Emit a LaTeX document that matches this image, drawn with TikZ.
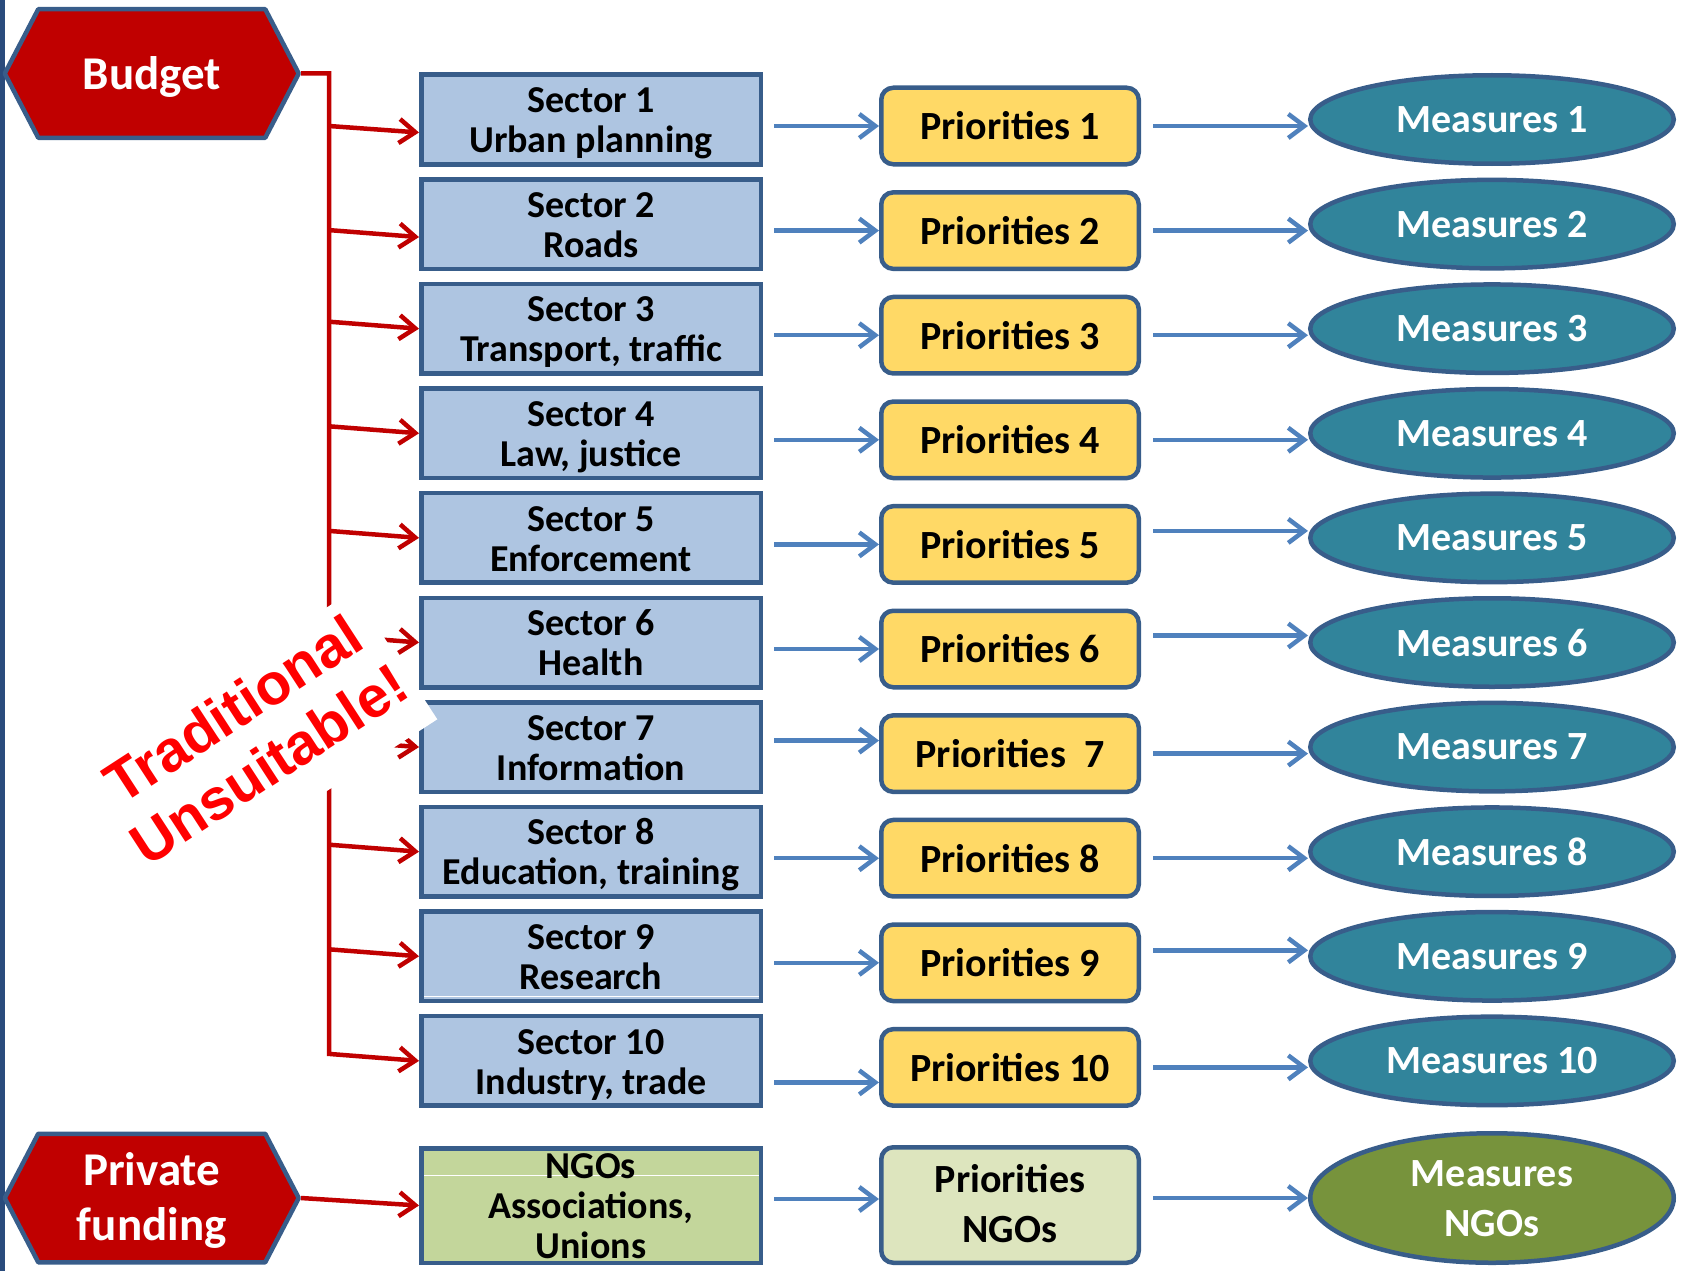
\documentclass[tikz,border=0pt]{standalone}
\usepackage{fontspec}
\setmainfont{Carlito}
\newfontfamily\tradfont{Liberation Sans}
\usetikzlibrary{
	arrows.meta,
	calc,
	positioning,
	shapes.geometric
}
\definecolor{budgetred}{HTML}{C00000}
\definecolor{boxline}{HTML}{385D8A}
\definecolor{sectorfill}{HTML}{AEC5E1}
\definecolor{ngofill}{HTML}{C3D69B}
\definecolor{priofill}{HTML}{FFD966}
\definecolor{priongofill}{HTML}{DDE5BE}
\definecolor{measurefill}{HTML}{31849B}
\definecolor{measurengofill}{HTML}{77933C}
\definecolor{arrowblue}{HTML}{4F81BD}
\definecolor{leftbar}{HTML}{2A4B7C}
\definecolor{tradred}{HTML}{FF0000}
\tikzset{every path/.append style={line width=4.5pt}}
\tikzset{
	hexline/.style={draw=boxline,fill=budgetred,line join=round},
	hexbox/.style={text=white,minimum width=294pt,minimum height=128.5pt,inner sep=0pt,align=center,font=\fontsize{47}{55}\selectfont\bfseries},
	sectorbox/.style={draw=boxline,fill=sectorfill,minimum width=339.5pt,minimum height=89.5pt,inner sep=0pt,align=center,font=\fontsize{38}{40}\selectfont\bfseries,textdims={74pt}{7.5pt}},
	priobox/.style={draw=boxline,fill=priofill,rounded corners=12pt,minimum width=257.5pt,minimum height=76.5pt,inner sep=0pt,align=center,font=\fontsize{40}{50}\selectfont\bfseries},
	measurebox/.style={ellipse,draw=boxline,fill=measurefill,text=white,minimum width=363.5pt,minimum height=88.5pt,inner sep=0pt,align=center,font=\fontsize{40}{50}\selectfont\bfseries},
	textdims/.style 2 args={text height=#1,text depth=#2},
	redarrow/.style={draw=budgetred,-{Straight Barb[length=16pt,width=24pt]}},
	bluearrow/.style={draw=arrowblue,-{Straight Barb[length=16pt,width=24pt]}},
	whiteline/.style={draw=white,line width=1pt}
}
\newcommand{\tikzHex}[4][]{
	\filldraw[hexline] ($#3+(-147,0)$) -- ($#3+(-113.5,-64.25)$) -- ($#3+(113.5,-64.25)$) -- ($#3+(147,0)$) -- ($#3+(113.5,64.25)$) -- ($#3+(-113.5,64.25)$) -- cycle;
	\node (#2) at #3 [hexbox,#1]{#4};
}
\newcommand{\tikzSector}[4][]{\node (s#2) at (591,#3) [sectorbox,#1]{#4};}
\newcommand{\tikzPrio}[4][]{\node (p#2) at (1010,#3) [priobox,#1]{#4};}
\newcommand{\tikzMeasure}[4][]{\node (m#2) at (1492,#3) [measurebox,#1]{#4};}

\begin{document}
\begin{tikzpicture}[x=1pt,y=-1pt]
	\useasboundingbox (0,0) rectangle (1685,1271);
	\fill[leftbar] (0,0) rectangle (5,1271);
	
	\tikzHex[text depth=0pt]{budget}{(151.75,73.5)}{Budget}
	\tikzHex[textdims={95pt}{10pt}]{private}{(151.75,1198)}{Private\\funding}
	
	\tikzSector{1}{119.5}{Sector 1\\Urban planning}
	\tikzSector{2}{224.1}{Sector 2\\Roads}
	\tikzSector{3}{328.7}{Sector 3\\Transport, traffic}
	\tikzSector{4}{433.3}{Sector 4\\Law, justice}
	\tikzSector{5}{537.9}{Sector 5\\Enforcement}
	\tikzSector{6}{642.5}{Sector 6\\Health}
	\tikzSector{7}{747.1}{Sector 7\\Information}
	\tikzSector{8}{851.7}{Sector 8\\Education, training}
	\tikzSector[path picture={\draw[whiteline] ($(path picture bounding box.west)+(0,40)$) -- ($(path picture bounding box.east)+(0,40)$);}]{9}{956.3}{Sector 9\\Research}
	\tikzSector{10}{1060.9}{Sector 10\\Industry, trade}
	\tikzSector[fill=ngofill,minimum height=114.5pt,textdims={110pt}{3.5pt},path picture={\draw[whiteline] ($(path picture bounding box.west)+(0,-30.5)$) -- ($(path picture bounding box.east)+(0,-30.5)$);}]{ngo}{1205.5}{NGOs\\Associations,\\Unions}
	
	\tikzPrio{1}{126}{Priorities 1}
	\tikzPrio{2}{230.6}{Priorities 2}
	\tikzPrio{3}{335.2}{Priorities 3}
	\tikzPrio{4}{439.8}{Priorities 4}
	\tikzPrio{5}{544.4}{Priorities 5}
	\tikzPrio{6}{649}{Priorities 6}
	\tikzPrio{7}{753.6}{Priorities\ \ 7}
	\tikzPrio{8}{858.2}{Priorities 8}
	\tikzPrio{9}{962.8}{Priorities 9}
	\tikzPrio{10}{1067.4}{Priorities 10}
	\tikzPrio[fill=priongofill,minimum height=115.5pt,textdims={90pt}{15pt}]{ngo}{1205}{Priorities\\NGOs}
	
	\tikzMeasure{1}{119.5}{Measures 1}
	\tikzMeasure{2}{224.1}{Measures 2}
	\tikzMeasure{3}{328.7}{Measures 3}
	\tikzMeasure{4}{433.3}{Measures 4}
	\tikzMeasure{5}{537.9}{Measures 5}
	\tikzMeasure{6}{642.5}{Measures 6}
	\tikzMeasure{7}{747.1}{Measures 7}
	\tikzMeasure{8}{851.7}{Measures 8}
	\tikzMeasure{9}{956.3}{Measures 9}
	\tikzMeasure{10}{1060.9}{Measures 10}
	\tikzMeasure[fill=measurengofill,minimum height=129.5pt,textdims={83.5pt}{7.5pt}]{ngo}{1198}{Measures\\NGOs}
	
	\coordinate (trunk) at (329,73.5);
	\draw[redarrow] (budget.east) -| ($(s10.west -| trunk)+(0,-7)$) -- (s10.west);
	\draw[redarrow] ($(s1.west -| trunk)+(0,6.5)$) -- ($(s1.west)+(0,13)$);
	\draw[redarrow] ($(s2.west -| trunk)+(0,6)$) -- ($(s2.west)+(0,13)$);
	\draw[redarrow] ($(s3.west -| trunk)+(0,-7)$) -- (s3.west);
	\draw[redarrow] ($(s4.west -| trunk)+(0,-7)$) -- (s4.west);
	\draw[redarrow] ($(s5.west -| trunk)+(0,-7)$) -- (s5.west);
	\draw[redarrow] ($(s6.west -| trunk)+(0,-7)$) -- (s6.west);
	\draw[redarrow] ($(s7.west -| trunk)+(0,-7)$) -- (s7.west);
	\draw[redarrow] ($(s8.west -| trunk)+(0,-7)$) -- (s8.west);
	\draw[redarrow] ($(s9.west -| trunk)+(0,-7)$) -- (s9.west);
	\draw[redarrow] (private.east) -- (sngo.west);
	
	\draw[bluearrow,shorten <=11pt] (s1.east |- p1.west) -- (p1.west);
	\draw[bluearrow,shorten <=11pt] (s2.east |- p2.west) -- (p2.west);
	\draw[bluearrow,shorten <=11pt] (s3.east |- p3.west) -- (p3.west);
	\draw[bluearrow,shorten <=11pt] (s4.east |- p4.west) -- (p4.west);
	\draw[bluearrow,shorten <=11pt] (s5.east |- p5.west) -- (p5.west);
	\draw[bluearrow,shorten <=11pt] (s6.east |- p6.west) -- (p6.west);
	\draw[bluearrow,shorten <=11pt] ($(s7.east |- p7.west)+(0,-13)$) -- ($(p7.west)+(0,-13)$);
	\draw[bluearrow,shorten <=11pt] (s8.east |- p8.west) -- (p8.west);
	\draw[bluearrow,shorten <=11pt] (s9.east |- p9.west) -- (p9.west);
	\draw[bluearrow,shorten <=11pt] ($(s10.east |- p10.west)+(0,15)$) -- ($(p10.west)+(0,15)$);
	\draw[bluearrow,shorten <=11pt] ($(sngo.east |- pngo.west)+(0,-6)$) -- ($(pngo.west)+(0,-6)$);
	
	\draw[bluearrow,shorten <=12pt] (p1.east) -- (p1.east -| m1.west);
	\draw[bluearrow,shorten <=12pt] (p2.east) -- (p2.east -| m2.west);
	\draw[bluearrow,shorten <=12pt] (p3.east) -- (p3.east -| m3.west);
	\draw[bluearrow,shorten <=12pt] (p4.east) -- (p4.east -| m4.west);
	\draw[bluearrow,shorten <=12pt] ($(m5.west -| p5.east)+(0,-7)$) -- ($(m5.west)+(0,-7)$);
	\draw[bluearrow,shorten <=12pt] ($(m6.west -| p6.east)+(0,-7)$) -- ($(m6.west)+(0,-7)$);
	\draw[bluearrow,shorten <=12pt] (p7.east) -- (p7.east -| m7.west);
	\draw[bluearrow,shorten <=12pt] (p8.east) -- (p8.east -| m8.west);
	\draw[bluearrow,shorten <=12pt] ($(m9.west -| p9.east)+(0,-6)$) -- ($(m9.west)+(0,-6)$);
	\draw[bluearrow,shorten <=12pt] (p10.east) -- (p10.east -| m10.west);
	\draw[bluearrow,shorten <=12pt] (mngo.west -| pngo.east) -- (mngo.west);
	
	\node (tradbg) at (246.5,751.4) [rotate=33,fill=white,minimum width=355pt,minimum height=154pt,inner sep=0pt]{};
	\node (trad) at (250.7,736.4) [rotate=33,text=tradred,align=center,font=\tradfont\fontsize{58}{66}\selectfont\bfseries]{Traditional\\Unsuitable!};
\end{tikzpicture}
\end{document}
